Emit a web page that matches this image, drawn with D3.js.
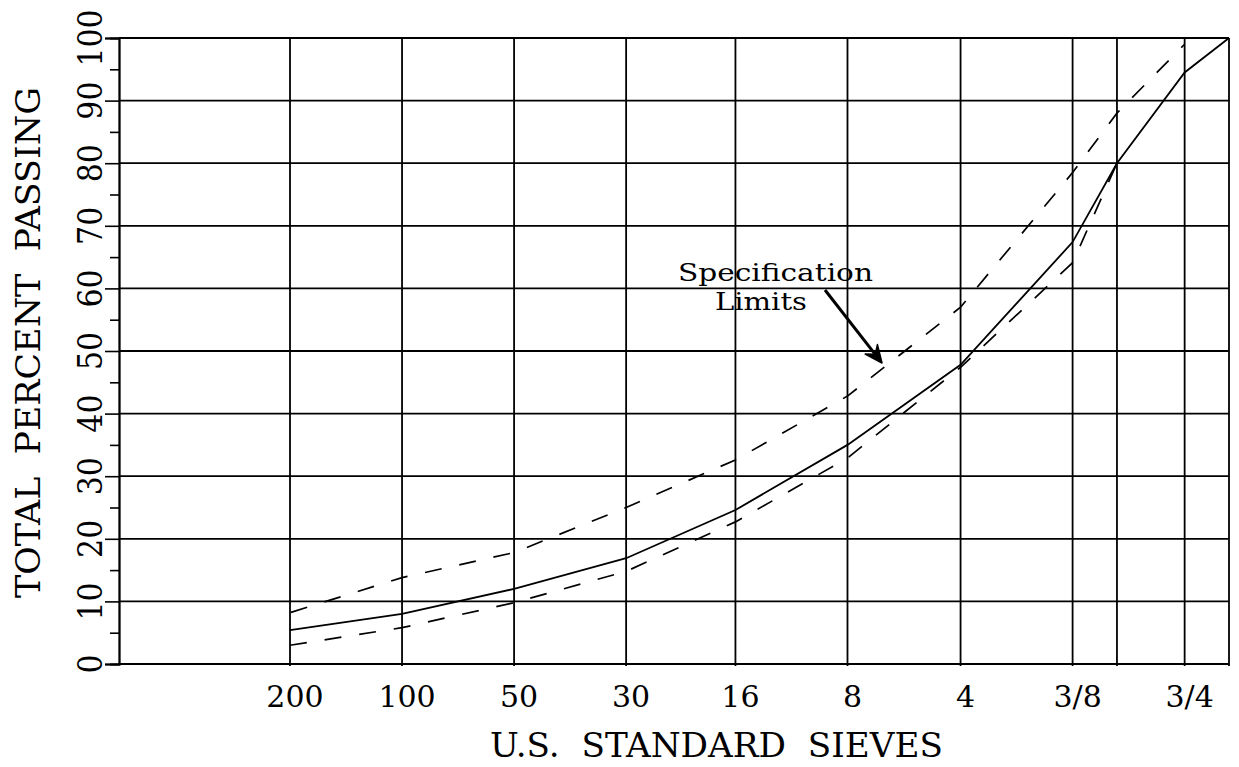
<!DOCTYPE html>
<html>
<head>
<meta charset="utf-8">
<script src="https://cdn.jsdelivr.net/npm/d3@7/dist/d3.min.js"></script>
<style>
  html, body { margin: 0; padding: 0; background: #fff; }
  svg text { font-family: "DejaVu Serif", "Liberation Serif", serif; fill: #000; white-space: pre; }
</style>
</head>
<body>
<svg id="chart" width="1239" height="767"></svg>
<script>
// Sieve designations (labels) and their opening sizes in mm
const sieveNames  = ["200", "100", "50", "30", "16", "8", "4", "3/8", "1/2", "3/4", "1"];
const sieveSizes  = [0.075, 0.15, 0.3, 0.6, 1.18, 2.36, 4.75, 9.5, 12.5, 19, 25];
// Sieves that carry a printed label under the axis
const labeledSieves = ["200", "100", "50", "30", "16", "8", "4", "3/8", "3/4"];

// Percent passing: the aggregate gradation and the specification band
const gradation  = [5.4, 8.0, 12.0, 16.9, 24.6, 35.0, 47.8, 67.4, 80, 94.5, 100];
const upperLimit = [8.2, 13.8, 17.8, 25.0, 32.6, 42.8, 57.0, 78.5, 88, 99];
const lowerLimit = [3.0, 5.8, 9.8, 14.8, 22.7, 32.9, 47.4, 64.1, 80];

const percentTicks = d3.range(0, 101, 10);
const minorTicks   = d3.range(5, 100, 10);

const svg = d3.select("#chart");
const frame = { left: 119, right: 1229, top: 38, bottom: 664 };

const x = d3.scaleLog().domain([0.075, 25]).range([290, frame.right]);
const y = d3.scaleLinear().domain([0, 100]).range([frame.bottom, frame.top]);

const ink = "#000";

// Horizontal grid lines every 10 percent
svg.append("g").selectAll("line").data(percentTicks).join("line")
  .attr("x1", frame.left).attr("x2", frame.right)
  .attr("y1", d => y(d)).attr("y2", d => y(d))
  .attr("stroke", ink).attr("stroke-width", 1.8);

// Vertical grid lines at each sieve
svg.append("g").selectAll("line").data(sieveSizes).join("line")
  .attr("x1", d => x(d)).attr("x2", d => x(d))
  .attr("y1", frame.top).attr("y2", frame.bottom + 2)
  .attr("stroke", ink).attr("stroke-width", 1.8);

// Left axis with major and minor ticks
const majorAxis = d3.axisLeft(y).tickValues(percentTicks).tickSize(14).tickFormat("");
const minorAxis = d3.axisLeft(y).tickValues(minorTicks).tickSize(9).tickFormat("");
const gMaj = svg.append("g").attr("transform", `translate(${frame.left},0)`).call(majorAxis);
const gMin = svg.append("g").attr("transform", `translate(${frame.left},0)`).call(minorAxis);
[gMaj, gMin].forEach(g => {
  g.select(".domain").attr("stroke", ink).attr("stroke-width", 1.8);
  g.selectAll(".tick line").attr("stroke", ink).attr("stroke-width", 1.6);
});

// Rotated percent labels
svg.append("g").selectAll("text").data(percentTicks).join("text")
  .attr("transform", d => `translate(102,${y(d)}) rotate(-90) scale(1,1.13)`)
  .attr("text-anchor", "middle")
  .style("font-size", "30px")
  .text(d => d);

// Sieve labels under the axis
svg.append("g").selectAll("text").data(labeledSieves).join("text")
  .attr("x", d => x(sieveSizes[sieveNames.indexOf(d)]) + 5)
  .attr("y", 707)
  .attr("text-anchor", "middle")
  .style("font-size", "30px")
  .text(d => d);

// Axis titles
svg.append("text")
  .attr("transform", "translate(40,342.5) rotate(-90) scale(1,1.13)")
  .attr("text-anchor", "middle")
  .attr("textLength", 511).attr("lengthAdjust", "spacingAndGlyphs")
  .style("font-size", "30px")
  .text("TOTAL  PERCENT  PASSING");

svg.append("text")
  .attr("x", 716.5).attr("y", 757)
  .attr("text-anchor", "middle")
  .attr("textLength", 453).attr("lengthAdjust", "spacingAndGlyphs")
  .style("font-size", "34px")
  .text("U.S.  STANDARD  SIEVES");

// Curves
const line = d3.line()
  .x((d, i) => x(sieveSizes[i]))
  .y(d => y(d));

svg.append("path").datum(upperLimit)
  .attr("d", line).attr("fill", "none")
  .attr("stroke", ink).attr("stroke-width", 1.7)
  .attr("stroke-dasharray", "17 18").attr("stroke-dashoffset", -1);

svg.append("path").datum(lowerLimit)
  .attr("d", line).attr("fill", "none")
  .attr("stroke", ink).attr("stroke-width", 1.7)
  .attr("stroke-dasharray", "17 18");

svg.append("path").datum(gradation)
  .attr("d", line).attr("fill", "none")
  .attr("stroke", ink).attr("stroke-width", 1.8);

// Annotation
svg.append("text")
  .attr("x", 678).attr("y", 281)
  .attr("textLength", 195).attr("lengthAdjust", "spacingAndGlyphs")
  .style("font-size", "25px")
  .text("Specification");
svg.append("text")
  .attr("x", 715).attr("y", 310)
  .attr("textLength", 92).attr("lengthAdjust", "spacingAndGlyphs")
  .style("font-size", "25px")
  .text("Limits");

const arrowStart = [825, 290], arrowTip = [882, 363];
const ang = Math.atan2(arrowTip[1] - arrowStart[1], arrowTip[0] - arrowStart[0]);
const headLen = 19, spread = 0.42;
const wing = s => [arrowTip[0] - headLen * Math.cos(ang + s), arrowTip[1] - headLen * Math.sin(ang + s)];
const notch = [arrowTip[0] - 11 * Math.cos(ang), arrowTip[1] - 11 * Math.sin(ang)];

svg.append("line")
  .attr("x1", arrowStart[0]).attr("y1", arrowStart[1])
  .attr("x2", notch[0]).attr("y2", notch[1])
  .attr("stroke", ink).attr("stroke-width", 3);
svg.append("path")
  .attr("d", d3.line()([arrowTip, wing(spread), notch, wing(-spread)]) + "Z")
  .attr("fill", ink).attr("stroke", ink).attr("stroke-width", 1.5).attr("stroke-linejoin", "round");
</script>
</body>
</html>
